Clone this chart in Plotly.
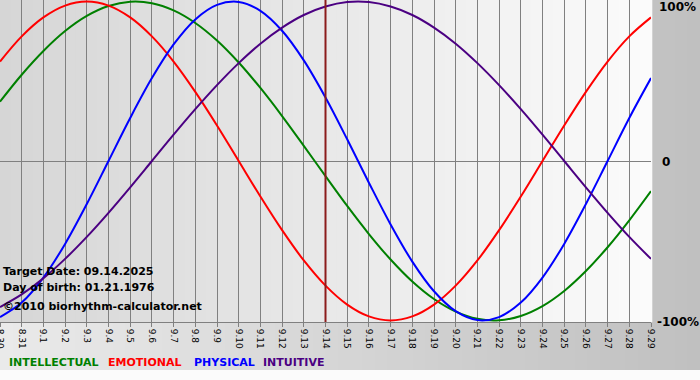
import plotly.graph_objects as go

dates = ["8.30", "8.31", "9.1", "9.2", "9.3", "9.4", "9.5", "9.6", "9.7", "9.8", "9.9",
         "9.10", "9.11", "9.12", "9.13", "9.14", "9.15", "9.16", "9.17", "9.18", "9.19",
         "9.20", "9.21", "9.22", "9.23", "9.24", "9.25", "9.26", "9.27", "9.28", "9.29"]

intellectual = [0.372, 0.541, 0.690, 0.815, 0.910, 0.972, 0.999, 0.990, 0.945, 0.866, 0.756,
                0.618, 0.458, 0.282, 0.095, -0.095, -0.282, -0.458, -0.618, -0.756, -0.866,
                -0.945, -0.990, -0.999, -0.972, -0.910, -0.815, -0.690, -0.541, -0.372, -0.189]
emotional = [0.624, 0.782, 0.901, 0.975, 1.0, 0.975, 0.901, 0.782, 0.624, 0.434, 0.223, 0.0,
             -0.223, -0.434, -0.624, -0.782, -0.901, -0.975, -1.0, -0.975, -0.901, -0.782,
             -0.624, -0.434, -0.223, 0.0, 0.223, 0.434, 0.624, 0.782, 0.901]
physical = [-0.979, -0.888, -0.731, -0.520, -0.270, 0.0, 0.270, 0.520, 0.731, 0.888, 0.979,
            0.998, 0.942, 0.817, 0.631, 0.398, 0.136, -0.136, -0.398, -0.631, -0.817, -0.942,
            -0.998, -0.979, -0.888, -0.731, -0.520, -0.270, 0.0, 0.270, 0.520]
intuitive = [-0.916, -0.837, -0.736, -0.614, -0.476, -0.325, -0.165, 0.0, 0.165, 0.325, 0.476,
             0.614, 0.736, 0.837, 0.916, 0.969, 0.997, 0.997, 0.969, 0.916, 0.837, 0.736,
             0.614, 0.476, 0.325, 0.165, 0.0, -0.165, -0.325, -0.476, -0.614]

series_names = ["INTELLECTUAL", "EMOTIONAL", "PHYSICAL", "INTUITIVE"]
series_colors = ["#008000", "#ff0000", "#0000ff", "#4b0082"]
target_date = "9.14"
info_lines = ["Target Date: 09.14.2025", "Day of birth: 01.21.1976", "\u00a92010 biorhythm-calculator.net"]
right_labels = ["100%", "0", "-100%"]

W, H = 700, 380
ML, MR, MT, MB = 0, 49, 0, 58
PW, PH = W - ML - MR, H - MT - MB

def px(x):
    return (x - ML) / PW

def py(y):
    return 1 - (y - MT) / PH

fig = go.Figure()
for name, vals, col in zip(series_names, [intellectual, emotional, physical, intuitive], series_colors):
    fig.add_trace(go.Scatter(x=dates, y=vals, mode="lines", name=name,
                             line=dict(color=col, width=2, shape="spline", smoothing=1.0),
                             showlegend=False, hoverinfo="skip"))

shapes = []
# outer background gradient
n_out = 56
for i in range(n_out):
    t = i / (n_out - 1)
    c = int(round(0xea + (0xc0 - 0xea) * t))
    x0 = W * i / n_out
    x1 = W * (i + 1) / n_out + 0.5
    shapes.append(dict(type="rect", xref="paper", yref="paper", layer="below",
                       x0=px(x0), x1=px(x1), y0=py(370), y1=py(0) + 0.01,
                       fillcolor=f"rgb({c},{c},{c})", line=dict(width=0)))
shapes.append(dict(type="rect", xref="paper", yref="paper", layer="below",
                   x0=px(0), x1=px(W), y0=py(H), y1=py(370),
                   fillcolor="#fbfbfb", line=dict(width=0)))
# plot area gradient
n_in = 60
for i in range(n_in):
    t = i / (n_in - 1)
    c = int(round(0xd6 + (0xfb - 0xd6) * t))
    shapes.append(dict(type="rect", xref="paper", yref="paper", layer="below",
                       x0=i / n_in, x1=(i + 1) / n_in + 0.002, y0=0, y1=1,
                       fillcolor=f"rgb({c},{c},{c})", line=dict(width=0)))
# target date line
ti = dates.index(target_date)
shapes.append(dict(type="line", xref="x", yref="paper", x0=ti, x1=ti,
                   y0=0, y1=1, line=dict(color="#8b1c1c", width=2), layer="above"))

annotations = []
info_y = [271, 287, 306]
for txt, yy in zip(info_lines, info_y):
    annotations.append(dict(text=txt, xref="paper", yref="paper", x=px(1), y=py(yy),
                            xanchor="left", yanchor="middle", showarrow=False,
                            font=dict(family="DejaVu Sans", size=11, color="#000000", weight="bold")))
for txt, yy, xx in zip(right_labels, [7, 162, 322], [657, 660, 655]):
    annotations.append(dict(text=txt, xref="paper", yref="paper", x=px(xx), y=py(yy),
                            xanchor="left", yanchor="middle", showarrow=False,
                            font=dict(family="DejaVu Sans", size=12, color="#000000", weight="bold")))
leg_x = [7, 106, 192, 261]
for name, col, xx in zip(series_names, series_colors, leg_x):
    annotations.append(dict(text=name, xref="paper", yref="paper", x=px(xx), y=py(362),
                            xanchor="left", yanchor="middle", showarrow=False,
                            font=dict(family="DejaVu Sans", size=11, color=col, weight="bold")))

fig.update_layout(
    width=W, height=H,
    margin=dict(l=ML, r=MR, t=MT, b=MB, pad=0, autoexpand=False),
    paper_bgcolor="#ffffff",
    plot_bgcolor="rgba(0,0,0,0)",
    shapes=shapes,
    annotations=annotations,
    showlegend=False,
    xaxis=dict(type="category", categoryorder="array", categoryarray=dates, automargin=False,
               range=[0, len(dates) - 1], showgrid=True, gridcolor="#808080", gridwidth=1,
               ticks="outside", ticklen=4, tickcolor="#808080", tickangle=90,
               tickfont=dict(family="DejaVu Sans", size=9, color="#000000"),
               showline=True, linecolor="#808080", linewidth=1, zeroline=False, fixedrange=True),
    yaxis=dict(range=[-1.01, 1.01], showgrid=False, zeroline=True, zerolinecolor="#808080",
               zerolinewidth=1, showticklabels=False, ticks="", showline=False, fixedrange=True,
               automargin=False),
)

fig.write_html("out.html", config={"displayModeBar": False},
               post_script="document.body.style.margin='0';document.body.style.padding='0';")
